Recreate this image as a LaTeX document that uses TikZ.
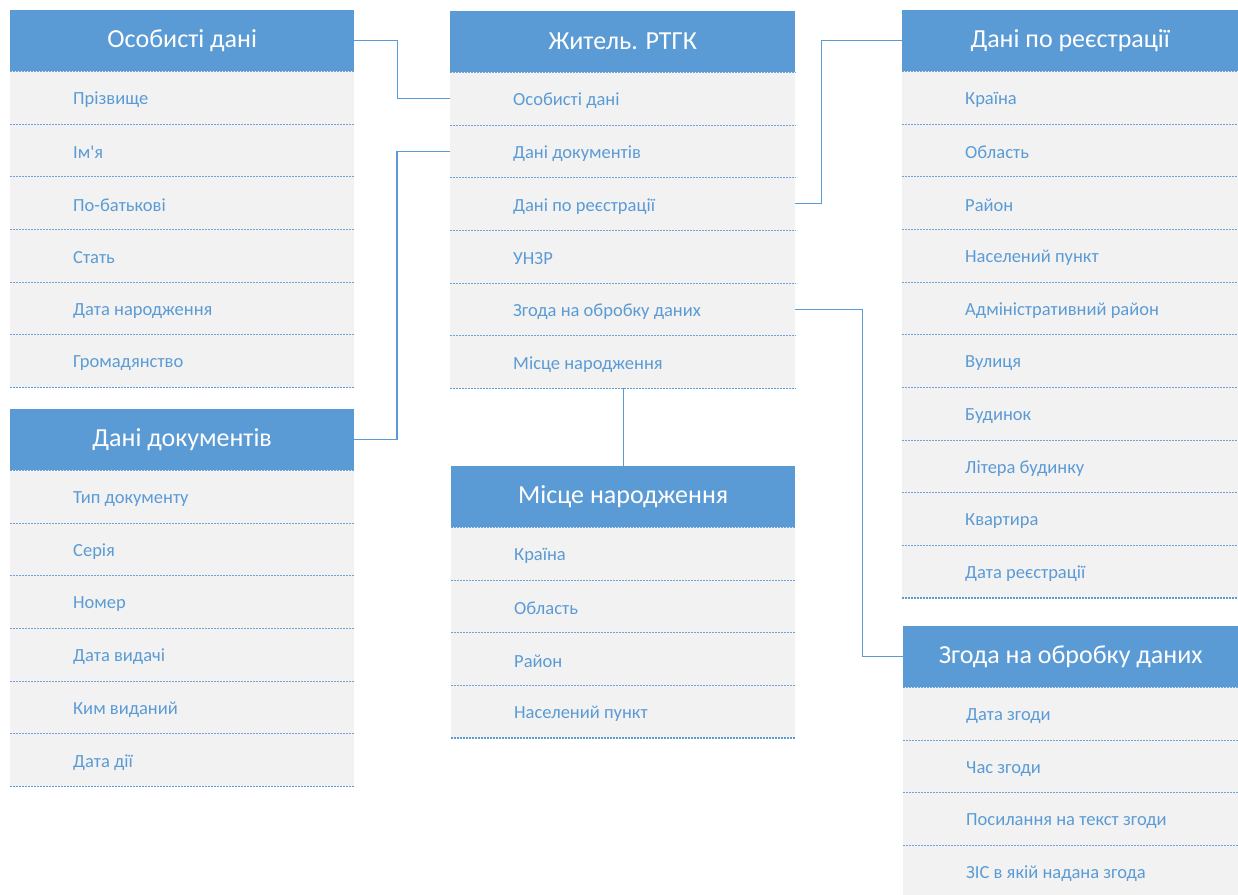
\documentclass[tikz,border=0pt]{standalone}
\usepackage{fontspec}
\setmainfont{Carlito}[Ligatures=TeXOff]
\definecolor{hdrblue}{HTML}{5B9BD5}
\definecolor{rowbg}{HTML}{F2F2F2}
\definecolor{fieldtxt}{HTML}{5B9BD5}
\definecolor{sepline}{HTML}{6FA3D8}

\tikzset{
  hdr/.style={rectangle, fill=hdrblue, text=white, minimum height=61pt,
    inner sep=0pt, font=\fontsize{26pt}{30pt}\selectfont},
  rowbox/.style={rectangle, fill=rowbg, minimum height=52.67pt, inner sep=0pt},
  field/.style={text=fieldtxt, inner sep=0pt, font=\fontsize{18.5pt}{21pt}\selectfont},
  sep/.style={draw=sepline, line width=0.9pt, dash pattern=on 2pt off 1pt},
  lastsep/.style={draw=hdrblue, line width=1.8pt, dash pattern=on 2pt off 1pt},
  conn/.style={draw=hdrblue, line width=1.2pt},
}

% #1 name, #2 left x, #3 top y, #4 width, #5 title, #6 number of fields, #7 fields
\newcommand\erdtable[7]{%
  \node[hdr, minimum width=#4pt, anchor=north west] (#1) at (#2,#3) {#5};
  \foreach \f [count=\i] in {#7} {
    \pgfmathsetmacro\ry{#3+61+(\i-1)*52.67}
    \node[rowbox, minimum width=#4pt, anchor=north west] (#1-\i) at (#2,\ry) {};
    \node[field, anchor=west] at ([xshift=63pt,yshift=-2.5pt]#1-\i.west) {\f};
  }
  % dashed rules between the rows, drawn over the row fills
  \draw[sep] (#1.south west) -- (#1.south east);
  \foreach \i in {1,...,#6} {
    \ifnum\i<#6\relax
      \draw[sep] (#1-\i.south west) -- (#1-\i.south east);
    \else
      \draw[lastsep] (#1-\i.south west) -- (#1-\i.south east);
    \fi
  }
}

\begin{document}
\begin{tikzpicture}[x=1pt, y=-1pt]
\path[use as bounding box, clip] (0,0) rectangle (1238,894);
\fill[white] (0,0) rectangle (1238,894);

\erdtable{pers}{10}{10}{344}{Особисті дані}{6}{Прізвище,Ім'я,По-батькові,Стать,Дата народження,Громадянство}
\erdtable{docs}{10}{409}{344}{Дані документів}{6}{Тип документу,Серія,Номер,Дата видачі,Ким виданий,Дата дії}
\erdtable{res}{450}{11}{345}{Житель. РТГК}{6}{Особисті дані,Дані документів,Дані по реєстрації,УНЗР,Згода на обробку даних,Місце народження}
\erdtable{birth}{451}{466}{344}{Місце народження}{4}{Країна,Область,Район,Населений пункт}
\erdtable{reg}{902}{10}{336}{Дані по реєстрації}{10}{Країна,Область,Район,Населений пункт,Адміністративний район,Вулиця,Будинок,Літера будинку,Квартира,Дата реєстрації}
\erdtable{cons}{903}{626}{335}{Згода на обробку даних}{4}{Дата згоди,Час згоди,Посилання на текст згоди,ЗІС в якій надана згода}

% links between the tables
\draw[conn] (pers.east) -- ([xshift=43pt]pers.east) |- (res-1.west);
\draw[conn] (res-2.west) -- ([xshift=-53pt]res-2.west) |- (docs.east);
\draw[conn] (res-3.east) -- ([xshift=26pt]res-3.east) |- (reg.west);
\draw[conn] (res-5.east) -- ([xshift=67pt]res-5.east) |- (cons.west);
\draw[conn] (res-6.south -| birth.north) -- (birth.north);
\end{tikzpicture}
\end{document}
